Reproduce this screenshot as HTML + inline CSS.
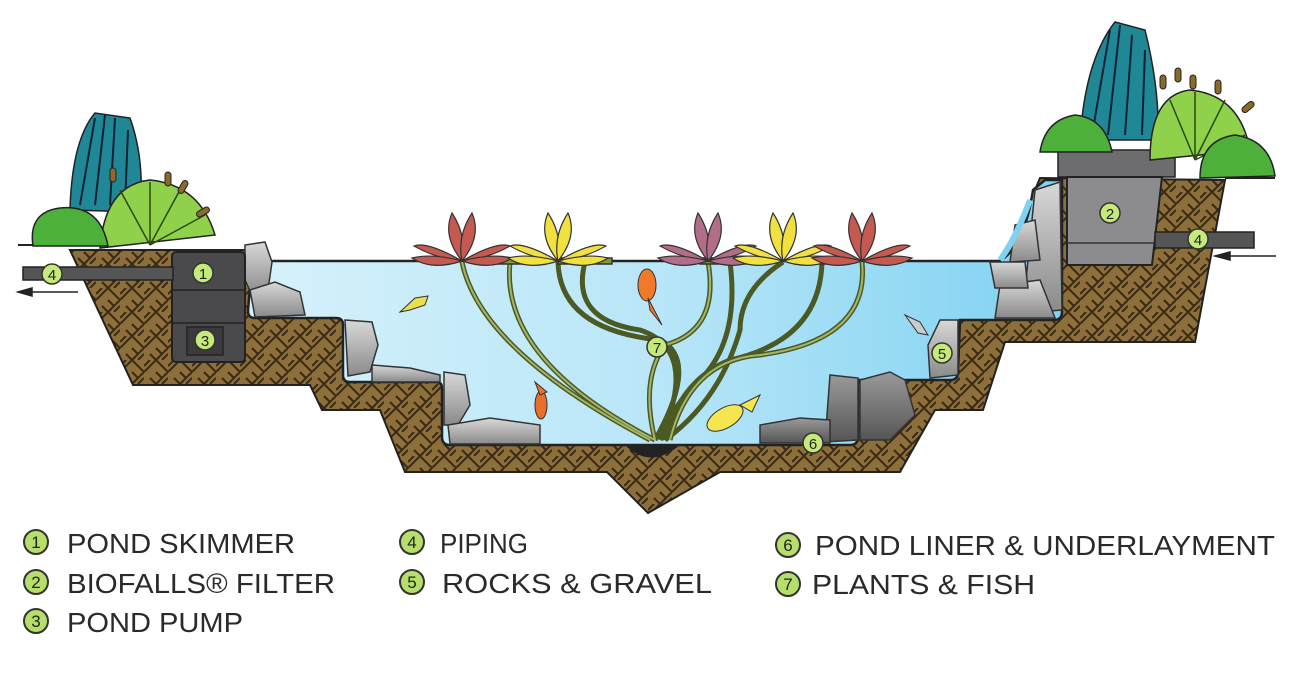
<!DOCTYPE html>
<html><head><meta charset="utf-8"><style>
html,body{margin:0;padding:0;background:#fff;width:1300px;height:687px;overflow:hidden}
svg text{font-family:"Liberation Sans",sans-serif}
</style></head><body>
<svg width="1300" height="687" viewBox="0 0 1300 687" xmlns="http://www.w3.org/2000/svg">
<defs>
<pattern id="soil" width="24" height="24" patternUnits="userSpaceOnUse">
<rect width="24" height="24" fill="#8d6f3c"/>
<path d="M0 6 L6 0 M0 12 L12 0 M12 24 L24 12 M18 24 L24 18 M12 12 L18 18 M6 18 L12 24 M12 0 L24 12" stroke="#3a2a14" stroke-width="2"/>
</pattern>
<linearGradient id="water" x1="0" y1="0" x2="1" y2="0">
<stop offset="0" stop-color="#d6f1fb"/><stop offset="0.5" stop-color="#b9e6f8"/><stop offset="1" stop-color="#7fd2f2"/>
</linearGradient>
<linearGradient id="rock" x1="0" y1="0" x2="0" y2="1"><stop offset="0" stop-color="#d8d8d8"/><stop offset="1" stop-color="#8a8a8a"/></linearGradient>
<linearGradient id="drock" x1="0" y1="0" x2="0" y2="1"><stop offset="0" stop-color="#9a9a9a"/><stop offset="1" stop-color="#555"/></linearGradient>
</defs>

<!-- soil -->
<path d="M70 250 L265 250 L265 262 L1005 262 L1040 178 L1225 180 L1195 342 L1005 342 L983 410 L935 410 L900 472 L720 472 L648 513 L607 472 L405 472 L380 410 L322 410 L310 385 L133 385 Z" fill="url(#soil)" stroke="#222" stroke-width="2"/>
<!-- water -->
<path d="M252 261 L1000 261 Q1025 245 1033 190 L1045 180 L1062 180 L1062 312 Q1062 320 1054 320 L960 320 L958 372 Q958 380 950 380 L858 380 L858 437 Q858 445 850 445 L450 445 Q442 445 442 437 L442 388 Q442 382 436 382 L350 382 Q343 382 343 375 L343 325 Q343 318 336 318 L255 318 Q248 318 248 311 Z" fill="url(#water)" stroke="#222" stroke-width="2.5"/>
<line x1="18" y1="245" x2="70" y2="245" stroke="#222" stroke-width="2"/>
<line x1="1225" y1="178" x2="1275" y2="178" stroke="#222" stroke-width="2"/>

<!-- rocks -->
<g fill="url(#rock)" stroke="#333" stroke-width="1.5">
<path d="M245 245 L265 242 L272 262 L268 290 L252 295 L245 280 Z"/>
<path d="M250 290 L275 282 L300 292 L305 315 L255 317 Z"/>
<path d="M345 320 L372 322 L378 345 L370 372 L348 376 Z"/>
<path d="M372 365 L410 368 L440 375 L440 382 L372 382 Z"/>
<path d="M444 372 L465 375 L470 405 L458 425 L444 425 Z"/>
<path d="M448 425 L490 418 L540 425 L540 444 L450 444 Z"/>
<path d="M1035 190 L1060 182 L1062 310 L1040 312 L1025 290 L1030 240 Z"/>
<path d="M1015 225 L1035 220 L1040 260 L1010 262 Z"/>
<path d="M1000 285 L1040 280 L1055 318 L995 318 Z"/>
<path d="M990 262 L1025 262 L1028 288 L995 288 Z"/>
<path d="M940 320 L958 320 L958 375 L930 378 L928 345 Z"/>
</g>
<g fill="url(#drock)" stroke="#333" stroke-width="1.5">
<path d="M860 380 L890 372 L905 380 L915 415 L890 440 L860 440 Z"/>
<path d="M830 375 L858 378 L858 440 L825 442 Z"/>
<path d="M760 425 L800 418 L830 420 L830 443 L760 443 Z"/>
</g>
<path d="M1030 200 Q1015 240 1000 260" stroke="#7fd2f2" stroke-width="6" fill="none"/>
<path d="M625 445 Q650 470 680 445 Z" fill="#222"/>

<!-- skimmer -->
<rect x="172" y="252" width="73" height="110" rx="4" fill="#4a4a4c" stroke="#222" stroke-width="2"/>
<line x1="172" y1="290" x2="245" y2="290" stroke="#222" stroke-width="1.5"/>
<line x1="172" y1="323" x2="245" y2="323" stroke="#222" stroke-width="1.5"/>
<rect x="187" y="327" width="36" height="28" fill="#3b3b3d" stroke="#222" stroke-width="1.5"/>
<rect x="23" y="267" width="150" height="13" fill="#555" stroke="#222" stroke-width="1.5"/>
<path d="M18 292 L78 292 M18 292 L32 288 L32 296 Z" stroke="#222" stroke-width="1.5" fill="#222"/>
<!-- filter -->
<rect x="1058" y="150" width="117" height="27" fill="#6d6d70" stroke="#222" stroke-width="1.5"/>
<path d="M1067 177 L1162 177 L1152 265 L1067 265 Z" fill="#8c8c8f" stroke="#222" stroke-width="2"/>
<line x1="1067" y1="243" x2="1155" y2="243" stroke="#333" stroke-width="1.5"/>
<rect x="1155" y="232" width="99" height="16" fill="#555" stroke="#222" stroke-width="1.5"/>
<path d="M1215 256 L1276 256 M1215 256 L1230 252 L1230 260 Z" stroke="#222" stroke-width="1.5" fill="#222"/>

<!-- stems -->
<g fill="none" stroke="#4a5a22" stroke-width="5">
<path d="M462 262 Q480 350 650 440"/><path d="M510 262 Q500 360 655 440"/>
<path d="M558 262 Q560 330 660 340 Q700 360 655 440"/><path d="M585 262 Q570 320 640 330 Q700 350 660 440"/>
<path d="M708 262 Q720 330 665 345 Q640 380 655 440"/><path d="M730 262 Q740 340 700 380 Q660 420 665 440"/>
<path d="M783 262 Q740 290 740 330 Q720 400 665 440"/><path d="M822 262 Q820 340 730 360 Q680 380 665 440"/>
<path d="M862 262 Q870 340 760 355 Q690 360 670 440"/>
</g>
<g fill="none" stroke="#a6b46a" stroke-width="2">
<path d="M462 262 Q480 350 650 440"/><path d="M510 262 Q500 360 655 440"/>
<path d="M708 262 Q720 330 665 345 Q640 380 655 440"/><path d="M862 262 Q870 340 760 355 Q690 360 670 440"/>
</g>
<g fill="#7a9a3a" stroke="#333" stroke-width="1.5">
<rect x="485" y="258" width="50" height="6"/><rect x="558" y="258" width="54" height="6"/>
<rect x="700" y="258" width="50" height="6"/><rect x="795" y="258" width="53" height="6"/>
</g>
<!-- flowers -->
<g stroke="#333" stroke-width="1.2">
<g transform="translate(462,261)" fill="#c45a50"><path d="M0 0 Q-20 -25 -10 -48 Q5 -25 0 0Z"/><path d="M0 0 Q20 -25 10 -48 Q-5 -25 0 0Z"/><path d="M0 0 Q-35 -20 -48 -15 Q-25 -2 0 0Z"/><path d="M0 0 Q35 -20 48 -15 Q25 -2 0 0Z"/><path d="M0 0 Q-30 10 -50 -3Q-30 -8 0 0Z"/><path d="M0 0 Q30 10 50 -3Q30 -8 0 0Z"/></g>
<g transform="translate(558,261)" fill="#f0e040"><path d="M0 0 Q-20 -25 -10 -48 Q5 -25 0 0Z"/><path d="M0 0 Q20 -25 10 -48 Q-5 -25 0 0Z"/><path d="M0 0 Q-35 -20 -48 -15 Q-25 -2 0 0Z"/><path d="M0 0 Q35 -20 48 -15 Q25 -2 0 0Z"/><path d="M0 0 Q-30 10 -50 -3Q-30 -8 0 0Z"/><path d="M0 0 Q30 10 50 -3Q30 -8 0 0Z"/></g>
<g transform="translate(708,261)" fill="#b26e88"><path d="M0 0 Q-20 -25 -10 -48 Q5 -25 0 0Z"/><path d="M0 0 Q20 -25 10 -48 Q-5 -25 0 0Z"/><path d="M0 0 Q-35 -20 -48 -15 Q-25 -2 0 0Z"/><path d="M0 0 Q35 -20 48 -15 Q25 -2 0 0Z"/><path d="M0 0 Q-30 10 -50 -3Q-30 -8 0 0Z"/><path d="M0 0 Q30 10 50 -3Q30 -8 0 0Z"/></g>
<g transform="translate(783,261)" fill="#f0e040"><path d="M0 0 Q-20 -25 -10 -48 Q5 -25 0 0Z"/><path d="M0 0 Q20 -25 10 -48 Q-5 -25 0 0Z"/><path d="M0 0 Q-35 -20 -48 -15 Q-25 -2 0 0Z"/><path d="M0 0 Q35 -20 48 -15 Q25 -2 0 0Z"/><path d="M0 0 Q-30 10 -50 -3Q-30 -8 0 0Z"/><path d="M0 0 Q30 10 50 -3Q30 -8 0 0Z"/></g>
<g transform="translate(862,261)" fill="#c45a50"><path d="M0 0 Q-20 -25 -10 -48 Q5 -25 0 0Z"/><path d="M0 0 Q20 -25 10 -48 Q-5 -25 0 0Z"/><path d="M0 0 Q-35 -20 -48 -15 Q-25 -2 0 0Z"/><path d="M0 0 Q35 -20 48 -15 Q25 -2 0 0Z"/><path d="M0 0 Q-30 10 -50 -3Q-30 -8 0 0Z"/><path d="M0 0 Q30 10 50 -3Q30 -8 0 0Z"/></g>
</g>
<!-- fish -->
<g stroke="#333" stroke-width="1">
<ellipse cx="647" cy="285" rx="9" ry="16" fill="#f07a2a"/><path d="M648 298 L662 325 L650 310 Z" fill="#f07a2a"/>
<ellipse cx="541" cy="405" rx="6" ry="14" fill="#e8702a"/><path d="M535 382 L547 392 L540 395 Z" fill="#e8702a"/>
<ellipse cx="725" cy="418" rx="20" ry="10" fill="#f5e650" transform="rotate(-30 725 418)"/><path d="M740 405 L760 395 L752 412 Z" fill="#f5e650"/>
<path d="M400 312 L415 298 L428 296 L425 305 L410 310 Z" fill="#e8e050"/>
<path d="M905 315 L920 322 L928 335 L918 333 Z" fill="#ccc"/>
</g>

<!-- left plants -->
<path d="M70 210 Q72 140 95 113 L130 118 Q145 160 140 212 Z" fill="#1f8796" stroke="#222" stroke-width="1.5"/>
<g stroke="#123" stroke-width="2"><path d="M80 205 L95 118 M95 205 L105 115 M110 205 L115 118 M125 205 L128 130"/></g>
<path d="M100 248 Q105 185 150 180 Q200 185 215 235 Z" fill="#8fd14a" stroke="#222" stroke-width="1.5"/>
<g stroke="#2a4a10" stroke-width="1.5"><path d="M150 245 L120 190 M150 245 L150 182 M150 245 L180 190 M150 245 L205 215"/></g>
<path d="M33 246 Q28 212 60 208 Q100 204 108 246 Z" fill="#4cb03a" stroke="#222" stroke-width="1.5"/>
<g fill="#8a6a2a" stroke="#222"><rect x="165" y="172" width="6" height="14" rx="3"/><rect x="180" y="180" width="6" height="14" rx="3" transform="rotate(30 183 187)"/><rect x="200" y="205" width="6" height="14" rx="3" transform="rotate(60 203 212)"/><rect x="110" y="168" width="6" height="14" rx="3"/></g>
<!-- right plants -->
<path d="M1080 140 Q1085 60 1115 22 L1145 30 Q1160 90 1158 140 Z" fill="#1f8796" stroke="#222" stroke-width="1.5"/>
<g stroke="#123" stroke-width="2"><path d="M1092 135 L1110 30 M1108 135 L1120 25 M1125 135 L1132 35 M1142 135 L1145 50"/></g>
<path d="M1150 160 Q1150 95 1190 90 Q1240 95 1250 150 Z" fill="#8fd14a" stroke="#222" stroke-width="1.5"/>
<g stroke="#2a4a10" stroke-width="1.5"><path d="M1195 160 L1170 100 M1195 160 L1195 92 M1195 160 L1225 100 M1195 160 L1245 135"/></g>
<path d="M1040 152 Q1045 120 1075 115 Q1105 118 1112 152 Z" fill="#4cb03a" stroke="#222" stroke-width="1.5"/>
<path d="M1200 178 Q1200 140 1235 135 Q1270 140 1275 176 Z" fill="#4cb03a" stroke="#222" stroke-width="1.5"/>
<g fill="#8a6a2a" stroke="#222"><rect x="1175" y="68" width="6" height="14" rx="3"/><rect x="1190" y="75" width="6" height="14" rx="3"/><rect x="1215" y="80" width="6" height="14" rx="3"/><rect x="1245" y="100" width="6" height="14" rx="3" transform="rotate(50 1248 107)"/><rect x="1160" y="75" width="6" height="14" rx="3"/></g>

<!-- number badges -->
<g font-size="15" text-anchor="middle" fill="#222">
<g fill="#c6ea7a" stroke="#333" stroke-width="1.5">
<circle cx="203" cy="273" r="10"/><circle cx="205" cy="340" r="10"/><circle cx="52" cy="274" r="10"/>
<circle cx="1110" cy="213" r="10"/><circle cx="1198" cy="239" r="10"/><circle cx="942" cy="353" r="10"/>
<circle cx="813" cy="443" r="10"/><circle cx="657" cy="347" r="10"/>
</g>
<text x="203" y="279">1</text><text x="205" y="346">3</text><text x="52" y="280">4</text>
<text x="1110" y="219">2</text><text x="1198" y="245">4</text><text x="942" y="359">5</text>
<text x="813" y="449">6</text><text x="657" y="353">7</text>
</g>

<!-- legend -->
<g fill="#b5df6a" stroke="#333" stroke-width="2">
<circle cx="36" cy="542" r="12"/><circle cx="36" cy="582" r="12"/><circle cx="36" cy="621" r="12"/>
<circle cx="412" cy="542" r="12"/><circle cx="412" cy="582" r="12"/>
<circle cx="788" cy="545" r="12"/><circle cx="788" cy="584" r="12"/>
</g>
<g font-size="17" text-anchor="middle" fill="#222">
<text x="36" y="548">1</text><text x="36" y="588">2</text><text x="36" y="627">3</text>
<text x="412" y="548">4</text><text x="412" y="588">5</text>
<text x="788" y="551">6</text><text x="788" y="590">7</text>
</g>
<g font-size="28" fill="#2a2a2a">
<text x="67" y="553" textLength="228" lengthAdjust="spacingAndGlyphs">POND SKIMMER</text>
<text x="67" y="593" textLength="268" lengthAdjust="spacingAndGlyphs">BIOFALLS® FILTER</text>
<text x="67" y="632" textLength="176" lengthAdjust="spacingAndGlyphs">POND PUMP</text>
<text x="440" y="553" textLength="88" lengthAdjust="spacingAndGlyphs">PIPING</text>
<text x="442" y="593" textLength="270" lengthAdjust="spacingAndGlyphs">ROCKS &amp; GRAVEL</text>
<text x="815" y="555" textLength="460" lengthAdjust="spacingAndGlyphs">POND LINER &amp; UNDERLAYMENT</text>
<text x="812" y="594" textLength="223" lengthAdjust="spacingAndGlyphs">PLANTS &amp; FISH</text>
</g>
</svg>
</body></html>
